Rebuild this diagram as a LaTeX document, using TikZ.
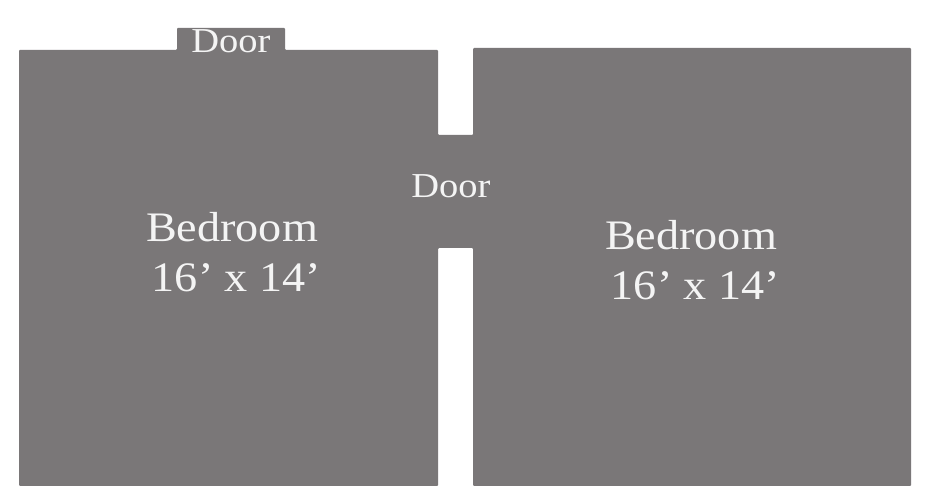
\documentclass[tikz,border=0pt]{standalone}
\usepackage{fontspec}
\setmainfont[FakeStretch=1.1]{Liberation Serif}
\definecolor{roomgrey}{HTML}{7A7778}
\definecolor{labelwhite}{HTML}{F4F4F4}
\tikzset{
  biglabel/.style={text=labelwhite,font=\fontsize{42}{50}\selectfont,align=center,inner sep=0pt},
  smalllabel/.style={text=labelwhite,font=\fontsize{35}{40}\selectfont,inner sep=0pt}
}
\begin{document}
\begin{tikzpicture}[x=1pt,y=-1pt]
\useasboundingbox (0,0) rectangle (930,494);
\fill[white] (0,0) rectangle (930,494);
\fill[roomgrey,rounded corners=1pt] (19,50) -- (177,50) -- (177,28) -- (285,28) -- (285,50) -- (438,50) -- (438,135) -- (473,135) -- (473,48) -- (911,48) -- (911,486) -- (473,486) -- (473,248) -- (438,248) -- (438,486) -- (19,486) -- cycle;
\node[smalllabel] (door1) at (231,41) {Door};
\node[smalllabel] (door2) at (451,186) {Door};
\node[biglabel] (room1) at (232,252) {Bedroom\\\hspace*{9pt}16’ x 14’};
\node[biglabel] (room2) at (691,260) {Bedroom\\\hspace*{9pt}16’ x 14’};
\end{tikzpicture}
\end{document}
